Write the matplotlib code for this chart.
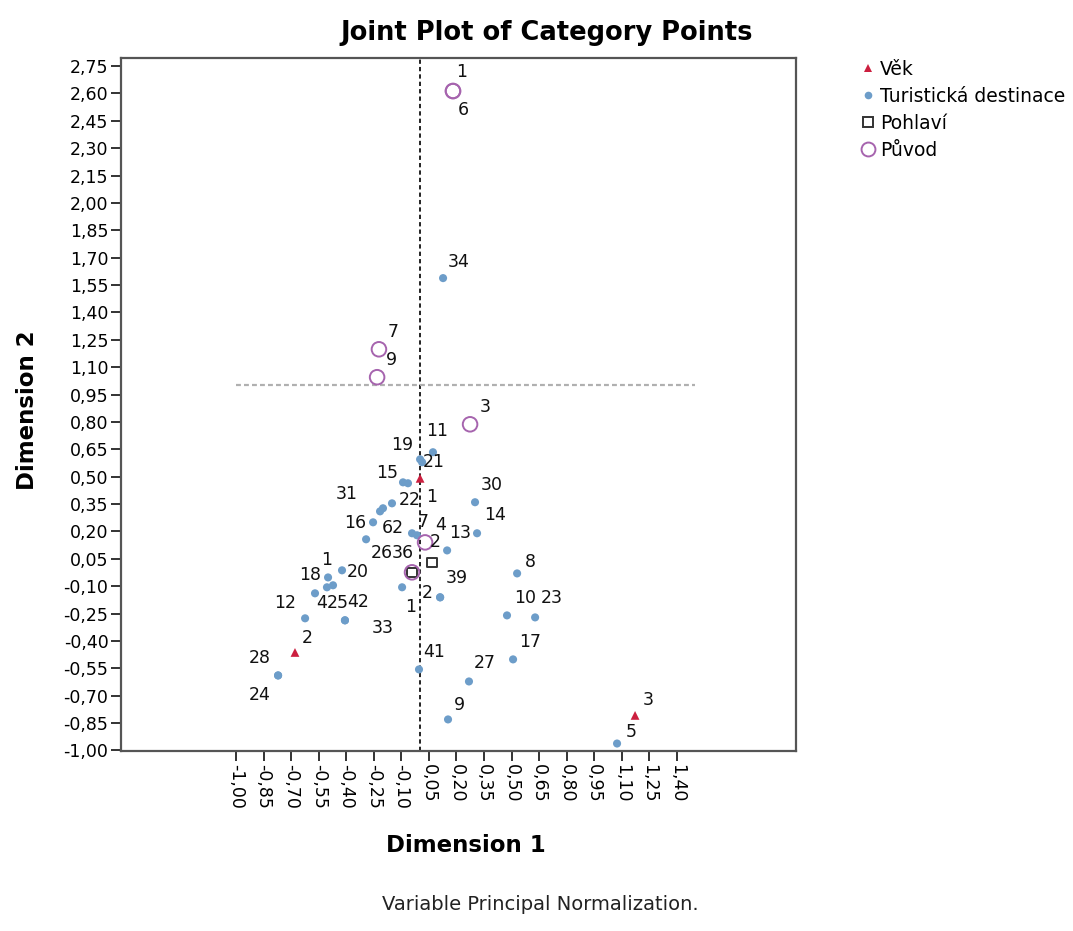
import matplotlib
matplotlib.use("Agg")
import matplotlib.pyplot as plt
from matplotlib.lines import Line2D

plt.rcParams['font.family'] = ['DejaVu Sans']

# ---------------- data ----------------
vek_x = [0.002, -0.679, 1.172]
vek_y = [0.491, -0.463, -0.808]
vek_lab = ['1', '2', '3']

tur_x = [0.127, 0.002, 0.072, 0.013, -0.091, -0.064, 0.301, -0.151, -0.200, -0.216,
         -0.254, -0.292, -0.042, -0.015, 0.149, 0.312, -0.096, 0.111, 0.111, -0.423,
         -0.499, -0.570, -0.505, -0.472, -0.624, -0.407, -0.407, 0.530, 0.475, 0.628,
         0.508, 0.268, -0.004, 0.154, 1.074, -0.771, -0.771]
tur_y = [1.588, 0.595, 0.634, 0.579, 0.469, 0.464, 0.360, 0.354, 0.327, 0.310,
         0.250, 0.157, 0.190, 0.179, 0.096, 0.190, -0.106, -0.161, -0.161, -0.013,
         -0.052, -0.139, -0.106, -0.095, -0.276, -0.287, -0.287, -0.030, -0.260, -0.271,
         -0.501, -0.622, -0.556, -0.830, -0.962, -0.589, -0.589]
tur_lab = ['34', '19', '11', '21', '15', '', '30', '22', '31', '',
           '16', '26', '62', '7', '13', '14', '1', '39', '2', '20',
           '1', '18', '4', '25', '12', '42', '33', '8', '10', '23',
           '17', '27', '41', '9', '5', '28', '24']

pohl_x = [0.067, -0.042]
pohl_y = [0.031, -0.024]
pohl_lab = ['2', '']

puv_x = [0.181, 0.181, -0.222, -0.232, 0.274, 0.029, -0.042]
puv_y = [2.613, 2.613, 1.198, 1.045, 0.787, 0.140, -0.024]
puv_lab = ['1', '6', '7', '9', '3', '4', '36']

series_names = ['Věk', 'Turistická destinace', 'Pohlaví', 'Původ']

x_ticks = [round(-1.00 + 0.15 * i, 2) for i in range(17)]
y_ticks = [round(-1.00 + 0.15 * i, 2) for i in range(26)]

# ---------------- label offsets (pixels, image direction) ----------------
tur_off = [(16, -16), (-18, -14), (4, -21), (12, 0), (-16, -9), (0, 0), (17, -17), (18, -3),
           (-36, -14), (0, 0), (-18, 1), (16, 14), (-19, -5), (6, -13), (13, -17), (18, -18),
           (9, 20), (17, -19), (-13, -4), (16, 2), (-1, -17), (-5, -18), (-5, 16), (5, 18),
           (-20, -15), (13, -18), (38, 8), (13, -11), (18, -17), (17, -19), (17, -17),
           (16, -18), (15, -17), (11, -14), (14, -12), (-18, -17), (-18, 20)]
vek_off = [(12, 19), (12, -14), (13, -15)]
pohl_off = [(3, -20), (0, 0)]
puv_off = [(9, -19), (10, 19), (14, -17), (14, -17), (15, -17), (16, -17), (-9, -19)]

W, H = 1073, 931
fig = plt.figure(figsize=(W / 100, H / 100), dpi=100)
L, R, T, B = 121, 796, 58, 751
ax = fig.add_axes([L / W, 1 - B / H, (R - L) / W, (B - T) / H])

ax.set_xlim(-1.626, 2.048)
ax.set_ylim(-1.003, 2.794)

c_vek = '#cc1f3f'
c_tur = '#6d9dc9'
c_pohl = '#333333'
c_puv = '#a664ae'

# reference lines
ax.axvline(0, color='#222222', lw=1.4, ls=(0, (2.2, 1.6)), zorder=1)
ax.plot([-1.0, 1.5], [1.0, 1.0], color='#b0b0b0', lw=1.6, ls=(0, (2.2, 1.4)), zorder=1)

ax.scatter(tur_x, tur_y, s=34, marker='o', color=c_tur, edgecolors='none', zorder=3)
ax.scatter(pohl_x, pohl_y, s=46, marker='s', facecolors='none', edgecolors=c_pohl,
           linewidths=1.4, zorder=4)
ax.scatter(puv_x, puv_y, s=110, marker='o', facecolors='none', edgecolors=c_puv,
           linewidths=1.4, zorder=4)
ax.scatter(vek_x, vek_y, s=40, marker='^', color=c_vek, edgecolors='none', zorder=5)

lab_fs = 12.5
def put_labels(xs, ys, labs, offs):
    for x, y, t, (dx, dy) in zip(xs, ys, labs, offs):
        if t:
            ax.annotate(t, (x, y), xytext=(dx, -dy), textcoords='offset pixels',
                        ha='center', va='center', fontsize=lab_fs, color='#111111',
                        zorder=6)

put_labels(tur_x, tur_y, tur_lab, tur_off)
put_labels(vek_x, vek_y, vek_lab, vek_off)
put_labels(pohl_x, pohl_y, pohl_lab, pohl_off)
put_labels(puv_x, puv_y, puv_lab, puv_off)

def fmt(v):
    return f"{v:.2f}".replace('.', ',')

ax.set_xticks(x_ticks)
ax.set_xticklabels([fmt(v) for v in x_ticks], rotation=-90, fontsize=12.5)
ax.set_yticks(y_ticks)
ax.set_yticklabels([fmt(v) for v in y_ticks], fontsize=12.5)
ax.tick_params(direction='out', length=7, width=1.4, color='#333333', pad=2)

for sp in ax.spines.values():
    sp.set_color('#555555')
    sp.set_linewidth(1.6)

fig.text(547 / W, 1 - 33 / H, 'Joint Plot of Category Points', ha='center', va='center',
         fontsize=18.5, fontweight='bold')
fig.text(466 / W, 1 - 845 / H, 'Dimension 1', ha='center', va='center',
         fontsize=16.5, fontweight='bold')
fig.text(28 / W, 1 - 410 / H, 'Dimension 2', ha='center', va='center', rotation=90,
         fontsize=16.5, fontweight='bold')
fig.text(540 / W, 1 - 905 / H, 'Variable Principal Normalization.', ha='center',
         va='center', fontsize=14, color='#222222')

handles = [
    Line2D([], [], ls='none', marker='^', color=c_vek, markersize=6, markeredgewidth=0),
    Line2D([], [], ls='none', marker='o', color=c_tur, markersize=5.5, markeredgewidth=0),
    Line2D([], [], ls='none', marker='s', markerfacecolor='none', markeredgecolor=c_pohl,
           markersize=7, markeredgewidth=1.4),
    Line2D([], [], ls='none', marker='o', markerfacecolor='none', markeredgecolor=c_puv,
           markersize=10, markeredgewidth=1.4),
]
fig.legend(handles, series_names, loc='upper left', bbox_to_anchor=(860 / W, 1 - 60 / H),
           frameon=False, fontsize=13.5, handlelength=0.8, handletextpad=0.25,
           labelspacing=0.42, borderaxespad=0, borderpad=0)

fig.savefig('out.png', dpi=100)
